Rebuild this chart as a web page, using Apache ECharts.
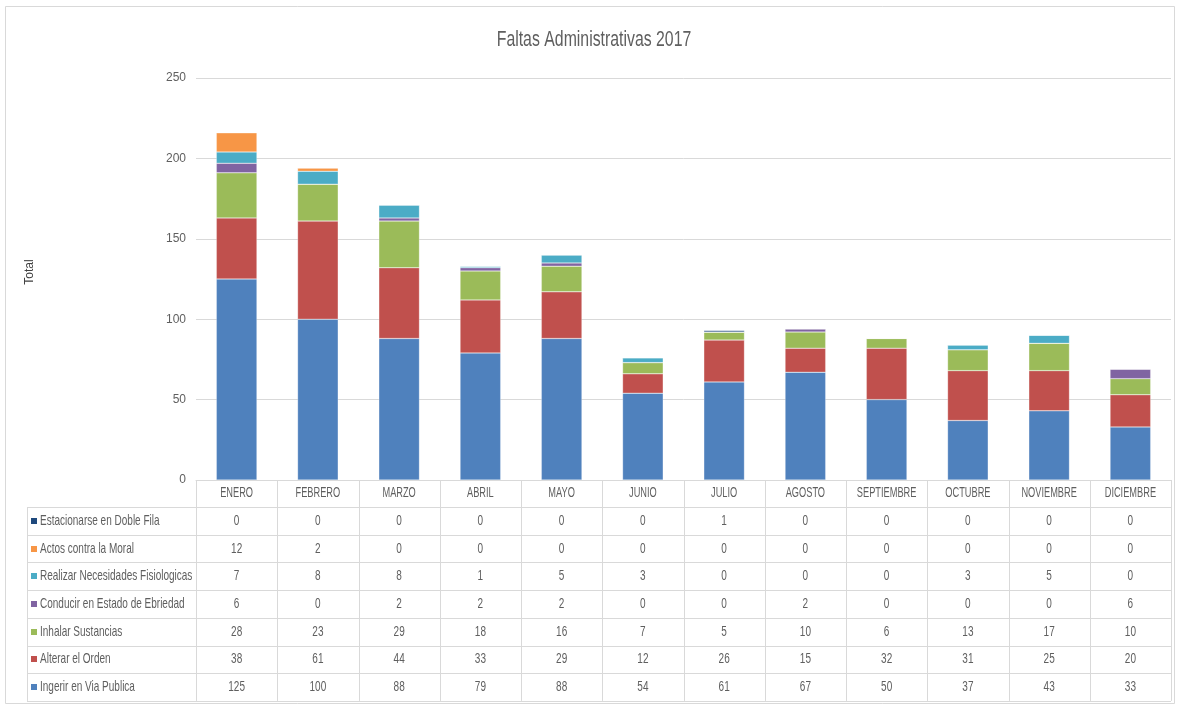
<!DOCTYPE html>
<html><head><meta charset="utf-8">
<script src="https://cdn.jsdelivr.net/npm/echarts@6/dist/echarts.min.js"></script>
<style>html,body{margin:0;padding:0;background:#fff}#c{width:1179px;height:706px}</style>
</head><body><div id="c"></div>
<script>
var months = ['ENERO','FEBRERO','MARZO','ABRIL','MAYO','JUNIO','JULIO','AGOSTO','SEPTIEMBRE','OCTUBRE','NOVIEMBRE','DICIEMBRE'];
var ingerir    = [125,100,88,79,88,54,61,67,50,37,43,33];
var alterar    = [38,61,44,33,29,12,26,15,32,31,25,20];
var inhalar    = [28,23,29,18,16,7,5,10,6,13,17,10];
var conducir   = [6,0,2,2,2,0,0,2,0,0,0,6];
var realizar   = [7,8,8,1,5,3,0,0,0,3,5,0];
var actos      = [12,2,0,0,0,0,0,0,0,0,0,0];
var estacionar = [0,0,0,0,0,0,1,0,0,0,0,0];
var yTicks = [0,50,100,150,200,250];
var titleText = 'Faltas Administrativas 2017';
var yAxisTitle = 'Total';

var seriesDefs = [
  {name:'Ingerir en Via Publica', data:ingerir, color:'#4F81BD'},
  {name:'Alterar el Orden', data:alterar, color:'#C0504D'},
  {name:'Inhalar Sustancias', data:inhalar, color:'#9BBB59'},
  {name:'Conducir en Estado de Ebriedad', data:conducir, color:'#8064A2'},
  {name:'Realizar Necesidades Fisiologicas', data:realizar, color:'#4BACC6'},
  {name:'Actos contra la Moral', data:actos, color:'#F79646'},
  {name:'Estacionarse en Doble Fila', data:estacionar, color:'#1F497D'}
];

var FONT = '"Liberation Sans",Arial,sans-serif';
var TXT = '#5f5f5f';
var LINE = '#d9d9d9';
var gLeft = 196, gRight = 1171, gTop = 78, gBottom = 480;
var tLeft = 27, headH = 27, rowH = 27.7;
var SX = 0.69;

var chart = echarts.init(document.getElementById('c'), null, {renderer:'canvas'});
var option = {
  animation:false,
  backgroundColor:'#fff',
  grid:{left:gLeft, right:1179-gRight, top:gTop, bottom:706-gBottom, containLabel:false},
  xAxis:{type:'category', data:months,
    axisLine:{lineStyle:{color:LINE}}, axisTick:{show:false},
    axisLabel:{show:false}},
  yAxis:{type:'value', min:0, max:250, interval:50,
    axisLine:{show:false}, axisTick:{show:false},
    splitLine:{lineStyle:{color:LINE}},
    axisLabel:{fontFamily:FONT, fontSize:12, color:TXT, margin:10,
      formatter:function(v){return yTicks.indexOf(v)>=0?String(v):'';}}},
  series: seriesDefs.map(function(s){
    return {name:s.name, type:'bar', stack:'total', data:s.data, barWidth:'50%',
      itemStyle:{color:s.color, borderColor:'rgba(255,255,255,0.5)', borderWidth:0.5}};
  })
};
chart.setOption(option);

function txt(str, x, y, size, align, sx){
  return {type:'text', x:x, y:y, scaleX:sx, silent:true,
    style:{text:str, x:0, y:0, fontFamily:FONT, fontSize:size, fill:TXT, verticalAlign:'middle', align:align}};
}

var g = [];
var colW = (gRight-gLeft)/months.length;
var nRows = seriesDefs.length;
var tTop = gBottom + headH;
var tBottom = tTop + nRows*rowH;
// title
g.push(txt(titleText, 594, 40, 22, 'center', 0.72));
// y axis title
g.push({type:'text', x:30, y:272, rotation:Math.PI/2, silent:true,
  style:{text:yAxisTitle, x:0, y:0, fontFamily:FONT, fontSize:12, fill:'#404040', align:'center', verticalAlign:'middle'}});
// outer frame
g.push({type:'rect', shape:{x:5.5,y:6.5,width:1169,height:697}, style:{fill:null, stroke:LINE, lineWidth:1}, silent:true});
// vertical lines
for (var i=0;i<=months.length;i++){
  var x = Math.round(gLeft + i*colW)+0.5;
  g.push({type:'line', shape:{x1:x,y1:gBottom,x2:x,y2:tBottom}, style:{stroke:LINE,lineWidth:1}, silent:true});
}
g.push({type:'line', shape:{x1:tLeft+0.5,y1:tTop,x2:tLeft+0.5,y2:tBottom}, style:{stroke:LINE,lineWidth:1}, silent:true});
// horizontal lines
for (var j=0;j<=nRows;j++){
  var y = Math.round(tTop + j*rowH)+0.5;
  g.push({type:'line', shape:{x1:tLeft,y1:y,x2:gRight,y2:y}, style:{stroke:LINE,lineWidth:1}, silent:true});
}
// header
for (var c=0;c<months.length;c++){
  var hx = chart.convertToPixel({xAxisIndex:0}, months[c]);
  g.push(txt(months[c], hx, gBottom + headH/2, 14, 'center', 0.66));
}
// rows: top row is last series
for (var r=0;r<nRows;r++){
  var s = seriesDefs[nRows-1-r];
  var cy = tTop + r*rowH + rowH/2;
  g.push({type:'rect', shape:{x:31,y:Math.round(cy)-3,width:6,height:6}, style:{fill:s.color}, silent:true});
  g.push(txt(s.name, 40, cy, 14.5, 'left', SX));
  for (var c2=0;c2<months.length;c2++){
    var px = chart.convertToPixel({xAxisIndex:0}, months[c2]);
    g.push(txt(String(s.data[c2]), px, cy, 14.5, 'center', SX));
  }
}
chart.setOption({graphic:{elements:g}});
</script></body></html>
